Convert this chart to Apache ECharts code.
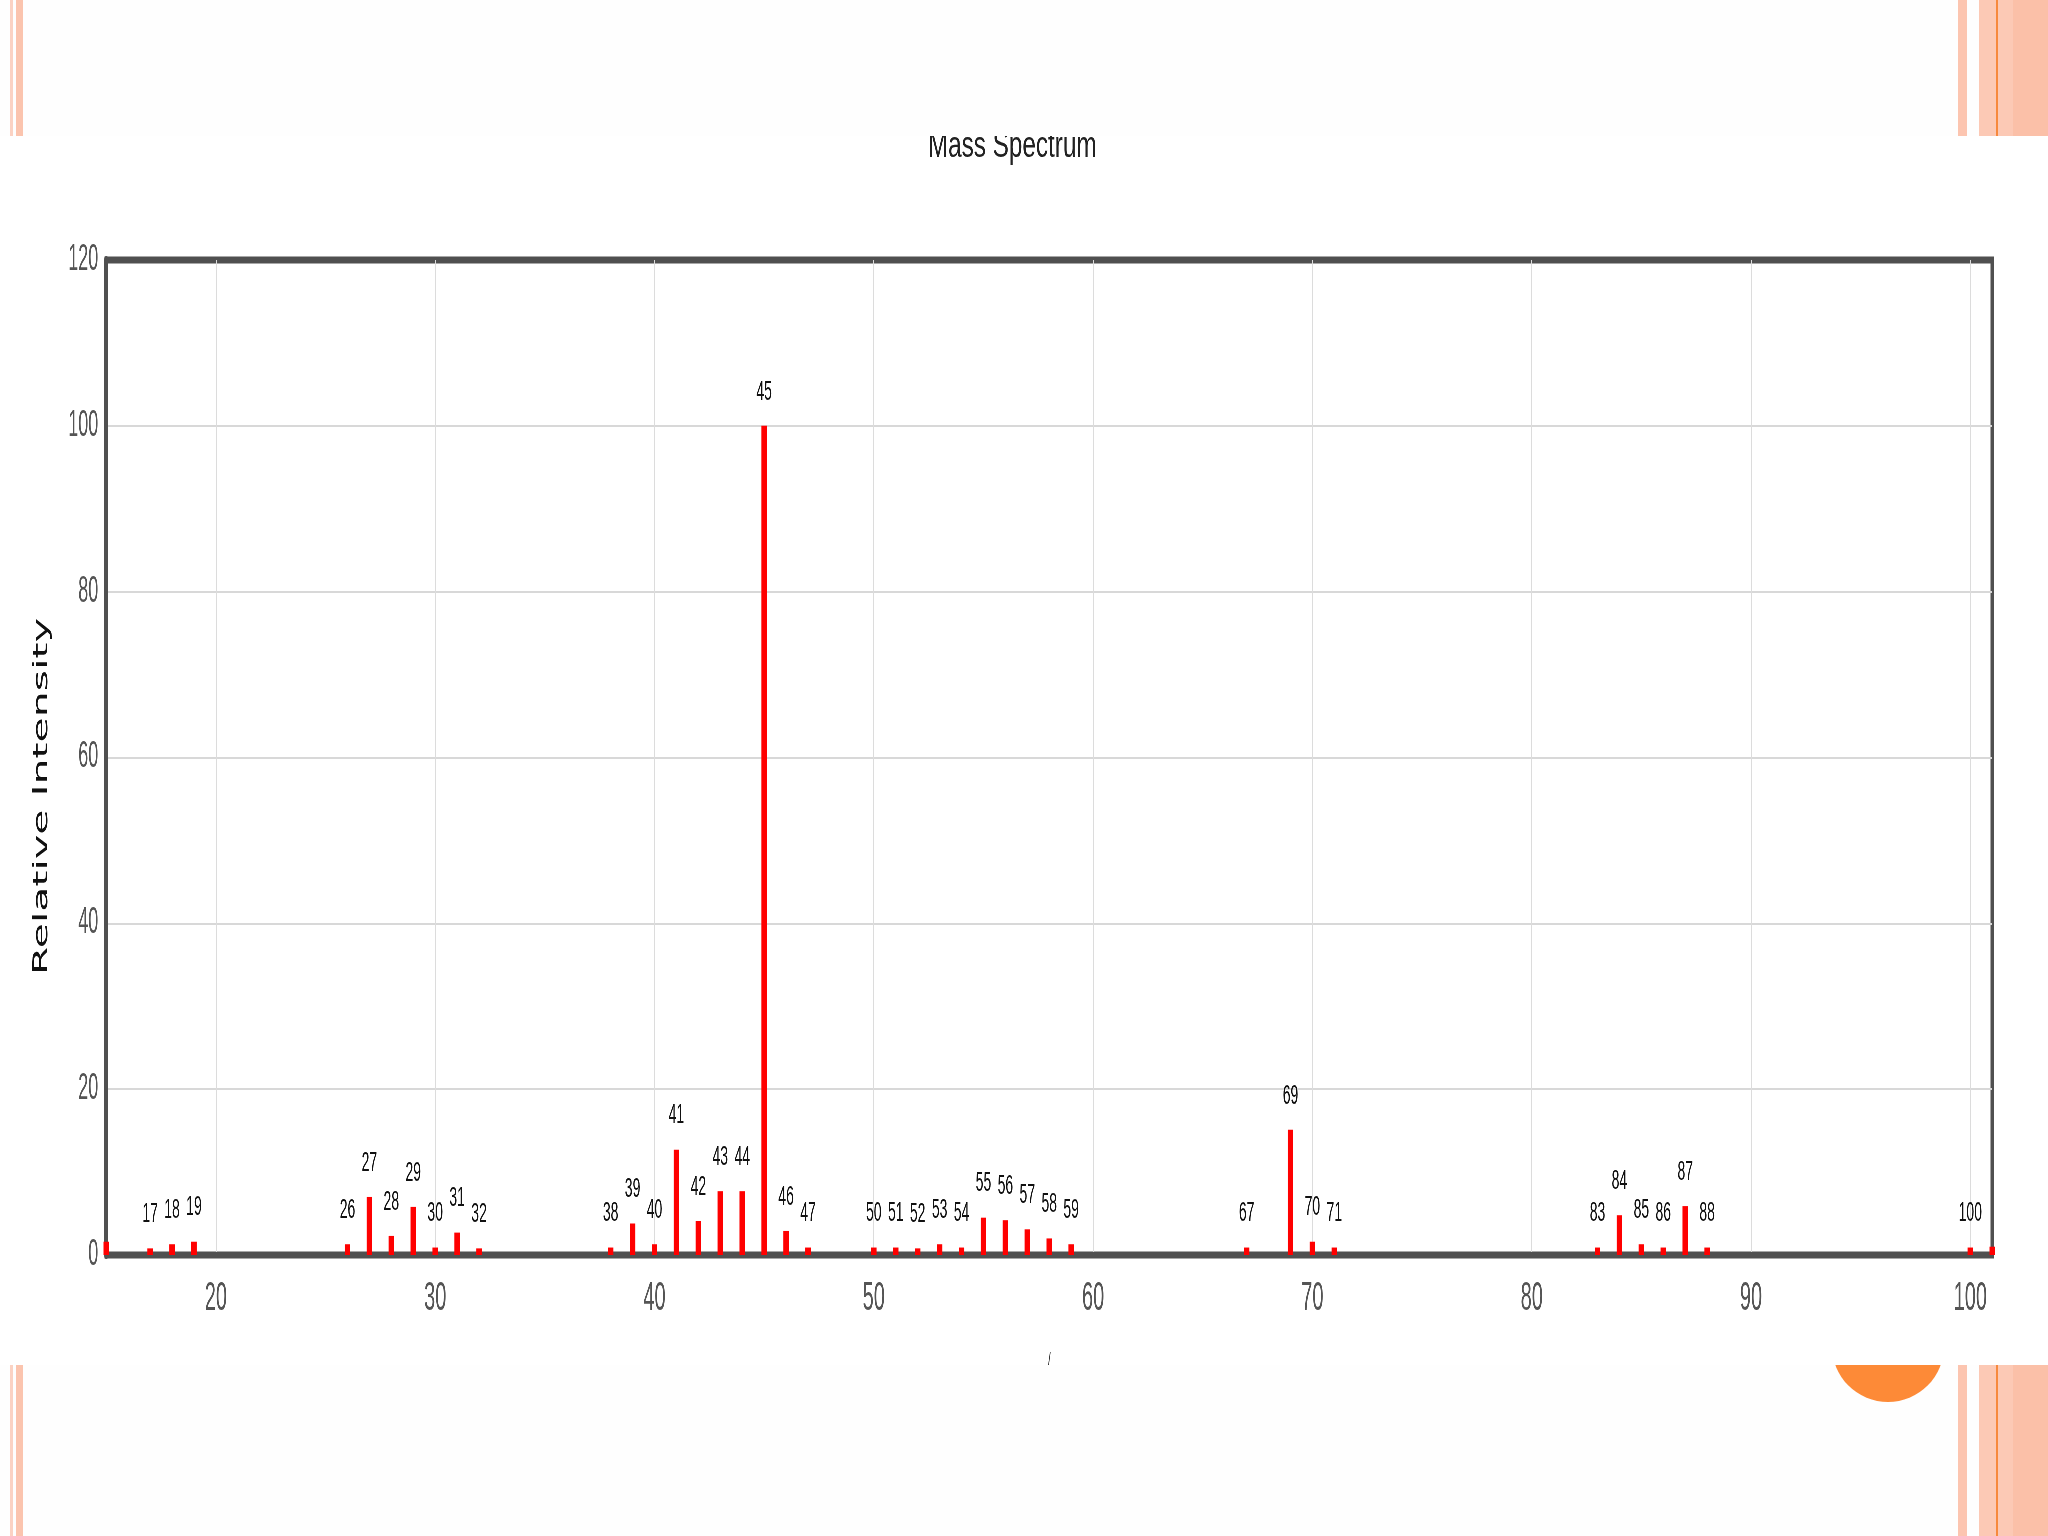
<!DOCTYPE html>
<html>
<head>
<meta charset="utf-8">
<script src="https://cdn.jsdelivr.net/npm/echarts@6/dist/echarts.min.js"></script>
<style>
html, body { margin:0; padding:0; background:#fefefe; }
#page { position:relative; width:2048px; height:1536px; overflow:hidden; background:#fefefe; }
.deco { position:absolute; top:0; height:1536px; }
#dot { position:absolute; left:1832px; top:1290px; width:112px; height:112px; border-radius:56px; background:#fd8a37; }
/* the chart picture is squeezed sideways, so draw it twice as wide and squash it */
#chart { position:absolute; left:0; top:136px; width:4096px; height:1229px; background:#fff;
  transform:scaleX(0.5); transform-origin:0 0; }
</style>
</head>
<body>
<div id="page">
  <div class="deco" style="left:10px;width:3px;background:#fbd2c3"></div>
  <div class="deco" style="left:16px;width:7px;background:#fbc4ae"></div>
  <div class="deco" style="left:1958px;width:9px;background:#fcc5b0"></div>
  <div class="deco" style="left:1979px;width:69px;background:#fcc9b5"></div>
  <div class="deco" style="left:2013px;width:35px;background:#fbc0a8"></div>
  <div class="deco" style="left:1996px;width:2px;background:#f7893d"></div>
  <div id="dot"></div>
  <div id="chart"></div>
</div>
<script>
// m/z and relative intensity
var mz        = [15, 17, 18, 19, 26, 27, 28, 29, 30, 31, 32, 38, 39, 40, 41, 42, 43, 44, 45, 46, 47,
                 50, 51, 52, 53, 54, 55, 56, 57, 58, 59, 67, 69, 70, 71, 83, 84, 85, 86, 87, 88, 100, 101];
var intensity = [1.6, 0.8, 1.3, 1.6, 1.3, 7.0, 2.3, 5.8, 0.9, 2.7, 0.8, 0.9, 3.8, 1.3, 12.7, 4.1, 7.7, 7.7, 100, 2.9, 0.9,
                 0.9, 0.9, 0.8, 1.3, 0.9, 4.5, 4.2, 3.1, 2.0, 1.3, 0.9, 15.1, 1.6, 0.9, 0.9, 4.8, 1.3, 0.9, 5.9, 0.9, 0.9, 1.0];
var unlabeled = [15, 101];
var yTicks = [0, 20, 40, 60, 80, 100, 120];

var barData = [];
for (var i = 0; i < mz.length; i++) {
  barData.push({
    value: [mz[i], intensity[i]],
    label: { show: unlabeled.indexOf(mz[i]) < 0 }
  });
}

var oChart = echarts.init(document.getElementById('chart'));
var option = {
  animation: false,
  graphic: [{
    type: 'text',
    x: 2024, y: 29,
    scaleX: 1.35,
    style: {
      text: 'Mass Spectrum',
      font: '36px "Liberation Sans"',
      fill: '#222',
      textAlign: 'center',
      textVerticalAlign: 'bottom'
    }
  }],
  grid: {
    show: true,
    left: 212, right: 112, top: 124, bottom: 110,
    outerBoundsMode: 'none',
    borderColor: '#505050',
    borderWidth: 7
  },
  xAxis: {
    type: 'value',
    min: 15, max: 101,
    splitNumber: 8,
    name: '/',
    nameLocation: 'middle',
    nameGap: 96,
    nameTextStyle: { fontSize: 20, color: '#333' },
    axisLine: { show: true, lineStyle: { color: '#505050', width: 6 } },
    axisTick: { show: false },
    axisLabel: {
      fontSize: 40, color: '#555', margin: 24,
      fontFamily: 'Liberation Sans',
      showMinLabel: false, showMaxLabel: false,
      formatter: function (v) { return v % 10 === 0 ? v : ''; }
    },
    splitLine: { show: true, showMinLine: false, showMaxLine: false, lineStyle: { color: '#dcdcdc', width: 2 } }
  },
  yAxis: {
    type: 'value',
    min: yTicks[0], max: yTicks[yTicks.length - 1],
    interval: yTicks[1] - yTicks[0],
    name: 'Relative Intensity',
    nameLocation: 'middle',
    nameGap: 108,
    nameTextStyle: { fontSize: 41, color: '#111', fontFamily: 'DejaVu Sans', padding: [0, 78, 0, 0] },
    axisLine: { show: true, lineStyle: { color: '#505050', width: 8 } },
    axisTick: { show: false },
    axisLabel: { fontSize: 36, color: '#555', margin: 16, fontFamily: 'Liberation Sans' },
    splitLine: { showMinLine: false, showMaxLine: false, lineStyle: { color: '#d8d8d8', width: 2 } }
  },
  series: [{
    type: 'bar',
    barWidth: 11,
    itemStyle: { color: '#ff0000' },
    label: {
      position: 'top',
      distance: 20,
      fontSize: 28,
      fontFamily: 'Liberation Sans',
      color: '#111',
      formatter: function (p) { return p.value[0]; }
    },
    data: barData
  }]
};
oChart.setOption(option);
</script>
</body>
</html>
